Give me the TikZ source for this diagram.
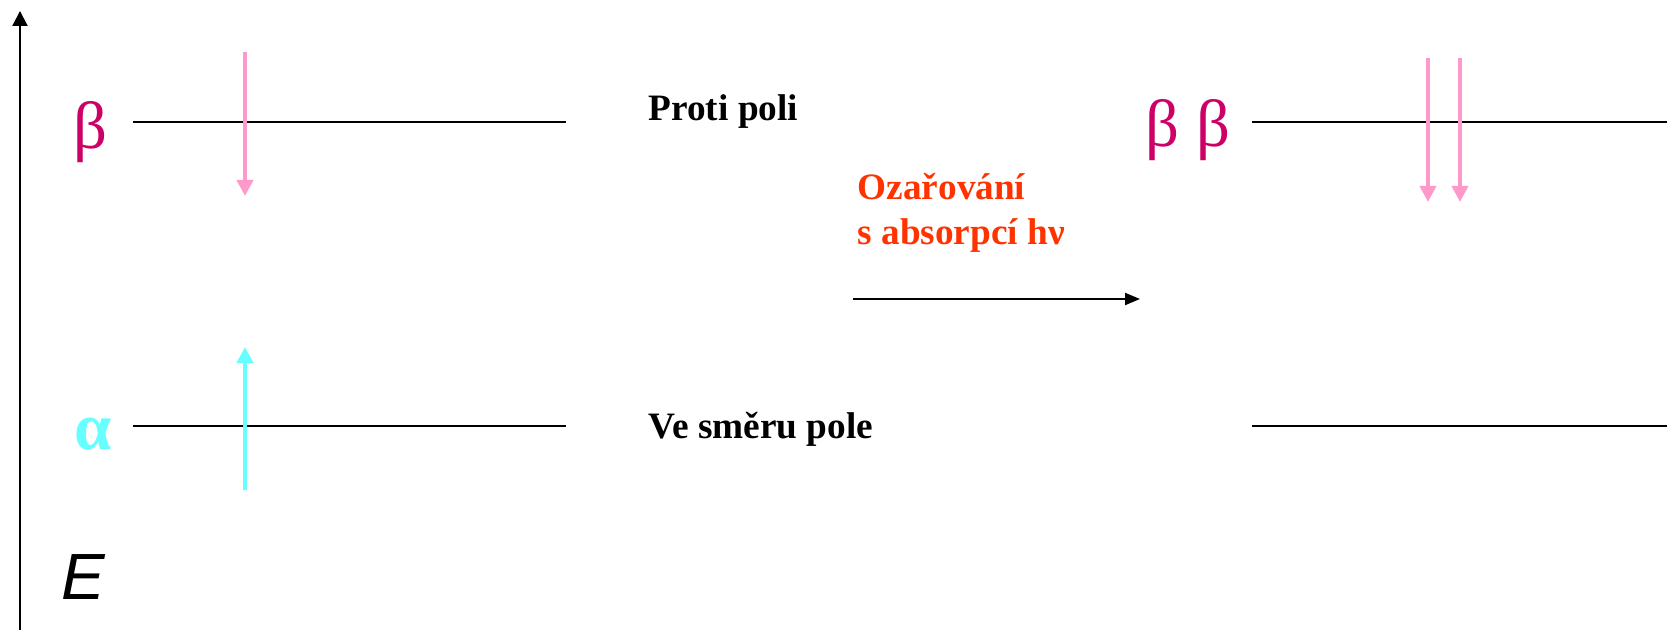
\documentclass[tikz,border=0pt]{standalone}
\usepackage{fontspec}
\setmainfont{Liberation Serif}
\newfontfamily\axisfont{Liberation Sans}
\usetikzlibrary{arrows.meta}

\definecolor{betacol}{HTML}{CC0066}
\definecolor{spinpink}{HTML}{FF99CC}
\definecolor{alphacol}{HTML}{66FFFF}
\definecolor{irrcol}{HTML}{FF3300}

\tikzset{
	level/.style={line width=0.6pt},
	spindown/.style={draw=spinpink, line width=1.3pt, -{Triangle[length=0.16cm, width=0.16cm]}},
	spinup/.style={draw=alphacol, line width=1.3pt, -{Triangle[length=0.16cm, width=0.16cm]}},
	txt/.style={font=\bfseries\fontsize{10.6}{12.8}\selectfont, inner sep=0pt, anchor=base west, align=left},
	greek/.style={font=\fontsize{19}{19}\selectfont, inner sep=0pt}
}

\begin{document}
\begin{tikzpicture}
	\useasboundingbox (0,0) rectangle (16.67,6.30);

	% energy axis
	\coordinate (e0) at (0.20,0);
	\coordinate (e1) at (0.20,6.19);
	\draw[line width=0.6pt, -{Triangle[length=0.15cm, width=0.15cm]}] (e0) -- (e1);
	\node[inner sep=0pt, font=\axisfont\itshape\fontsize{18.6}{18.6}\selectfont] (E) at (0.83,0.53) {E};

	% levels before irradiation
	\node[greek, text=betacol] (bL) at (0.90,4.98) {β};
	\node[greek, text=alphacol, font=\bfseries\fontsize{19}{19}\selectfont] (aL) at (0.93,1.96) {α};
	\draw[level] (1.33,5.08) coordinate (b1) -- (5.66,5.08) coordinate (b2);
	\draw[level] (1.33,2.04) coordinate (a1) -- (5.66,2.04) coordinate (a2);

	\draw[spindown] (2.45,5.78) coordinate (s1) -- (2.45,4.34) coordinate (s2);
	\draw[spinup] (2.45,1.40) coordinate (s3) -- (2.45,2.83) coordinate (s4);

	\node[txt] (proti) at (6.48,5.09) {Proti poli};
	\node[txt] (smer) at (6.48,1.91) {Ve směru pole};

	% irradiation (base of a two-line node is its last line)
	\node[txt, text=irrcol] (ozar) at (8.57,3.85) {Ozařování\\s absorpcí hν};
	\coordinate (i0) at (8.53,3.31);
	\coordinate (i1) at (11.40,3.31);
	\draw[line width=0.6pt, -{Triangle[length=0.15cm, width=0.12cm]}] (i0) -- (i1);

	% levels after irradiation
	\node[greek, text=betacol] (bR) at (11.88,5.00) {β β};
	\draw[level] (12.52,5.08) coordinate (c1) -- (16.67,5.08) coordinate (c2);
	\draw[level] (12.52,2.04) coordinate (d1) -- (16.67,2.04) coordinate (d2);

	\draw[spindown] (14.28,5.72) coordinate (r1) -- (14.28,4.28) coordinate (r2);
	\draw[spindown] (14.60,5.72) coordinate (r3) -- (14.60,4.28) coordinate (r4);
\end{tikzpicture}
\end{document}
